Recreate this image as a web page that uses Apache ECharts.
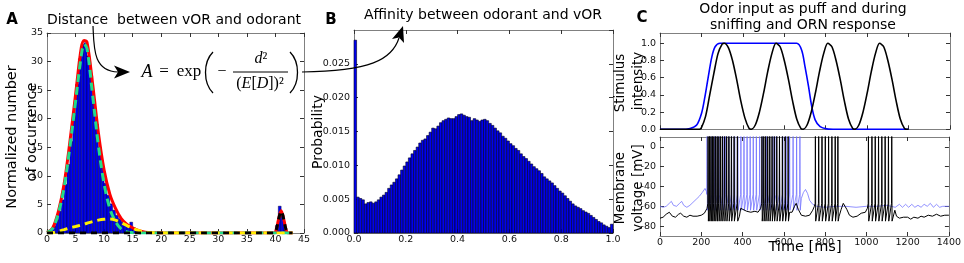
<!DOCTYPE html>
<html><head><meta charset="utf-8">
<script src="https://cdn.jsdelivr.net/npm/echarts@6/dist/echarts.min.js"></script>
<style>html,body{margin:0;padding:0;background:#fff}#c{width:964px;height:263px}</style>
</head><body><div id="c"></div>
<script>
// ---------- Panel A: distance histogram (bin left edge, bin right edge, normalized count) ----------
const distBinLeft  = [0,0.5,1,1.5,2,2.5,3,3.5,4,4.5,5,5.5,6,6.5,7,7.5,8,8.5,9,9.5,10,10.5,11,11.5,12,12.5,13,13.5,14,14.5,15,15.5,16,16.5,17,17.5,40,40.5,41,41.5];
const distBinRight = [0.5,1,1.5,2,2.5,3,3.5,4,4.5,5,5.5,6,6.5,7,7.5,8,8.5,9,9.5,10,10.5,11,11.5,12,12.5,13,13.5,14,14.5,15,15.5,16,16.5,17,17.5,18,40.5,41,41.5,42];
const distCounts   = [0.3,0.6,1.2,2.3,3.8,5.8,8.5,12,16,21,26,30.5,33,33.3,31,27.5,23,19,15,11.5,8.7,6.6,5.1,4,3.1,2.5,2,1.6,1.3,1.9,0.9,0.6,0.4,0.25,0.15,0.08,1.3,4.7,3.2,0.6];
// fitted curves
const fitX      = [0,1,2,3,4,5,6,6.5,7,8,9,10,11,12,13,14,15,16,17,18,20,25,30,35,39,39.8,40.2,40.5,41,41.5,41.8,42.2,43];
const fitTotal  = [0.1,0.9,3.8,8.6,15.9,24.2,32.4,33.7,33.4,26,17.5,11,6.8,4.3,2.5,1.5,0.9,0.45,0.2,0.08,0.02,0,0,0,0,0,0.8,2.2,3.9,2.2,0.8,0,0];
const fitMain   = [0.1,0.8,3.5,8,15,23,31,33,32.3,24,15.3,8.6,4.3,2,0.7,0.2,0.05,0,0,0,0,0,0,0,0,0,0,0,0,0,0,0,0];
const fitSecond = [0,0.05,0.3,0.6,0.9,1.15,1.4,1.55,1.7,2.0,2.25,2.4,2.45,2.25,1.8,1.3,0.85,0.45,0.2,0.08,0,0,0,0,0,0,0,0,0,0,0,0,0];
const fitFar    = [0,0,0,0,0,0,0,0,0,0,0,0,0,0,0,0,0,0,0,0,0,0,0,0,0,0,0.8,2.2,3.8,2.2,0.8,0,0];

// ---------- Panel B: affinity histogram, 100 bins over [0,1] ----------
const affinityProb = [0.0285,0.0053,0.0051,0.0049,0.0043,0.0045,0.0046,0.0044,0.0046,0.0049,
 0.0053,0.0056,0.0060,0.0066,0.0071,0.0075,0.0080,0.0086,0.0093,0.0099,
 0.0105,0.0111,0.0117,0.0122,0.0127,0.0133,0.0137,0.0139,0.0144,0.0149,
 0.0155,0.0154,0.0158,0.0163,0.0166,0.0168,0.0170,0.0169,0.0169,0.0172,
 0.0175,0.0176,0.0174,0.0172,0.0171,0.0166,0.0169,0.0167,0.0165,0.0167,
 0.0168,0.0166,0.0162,0.0159,0.0155,0.0151,0.0148,0.0143,0.0140,0.0136,
 0.0132,0.0129,0.0125,0.0122,0.0117,0.0113,0.0110,0.0106,0.0102,0.0098,
 0.0095,0.0092,0.0088,0.0083,0.0080,0.0077,0.0074,0.0070,0.0066,0.0062,
 0.0059,0.0055,0.0051,0.0047,0.0043,0.0040,0.0038,0.0036,0.0033,0.0031,
 0.0029,0.0026,0.0023,0.0020,0.0017,0.0015,0.0012,0.0010,0.0008,0.0013];
const affinityBinWidth = 0.01;

// ---------- Panel C (top): stimulus ----------
const puffTrace = [[0,0],[100,0],[145,0.01],[177,0.05],[201,0.19],[217,0.38],[233,0.61],[250,0.84],[266,0.96],[290,1.0],[660,1.0],[684,0.92],[700,0.73],[717,0.5],[733,0.26],[749,0.11],[773,0.03],[805,0.005],[850,0],[1200,0]];
const sniffTrace = [[0,0],[190,0],[200,0.02],[220,0.15],[240,0.4],[260,0.65],[280,0.88],[300,0.99],[310,1.0],[330,0.95],[350,0.8],[370,0.58],[390,0.33],[410,0.13],[430,0.01],[440,0],
 [460,0.05],[480,0.2],[500,0.42],[520,0.67],[540,0.88],[560,1.0],[580,0.96],[600,0.8],[620,0.58],[640,0.33],[660,0.12],[680,0.01],[690,0],
 [710,0.05],[730,0.2],[750,0.42],[770,0.67],[790,0.88],[810,1.0],[830,0.96],[850,0.8],[870,0.58],[890,0.33],[910,0.12],[930,0.01],[940,0],
 [960,0.05],[980,0.2],[1000,0.42],[1020,0.67],[1040,0.88],[1060,1.0],[1080,0.96],[1100,0.8],[1120,0.58],[1140,0.33],[1160,0.12],[1180,0.01],[1190,0],[1200,0]];

// ---------- Panel C (bottom): membrane voltage ----------
const sniffSpikeTimes = [233,240,247,254,261,269,277,285,294,303,313,323,334,346,359,375,
 494,503,512,522,532,543,554,566,579,593,607,621,
 753,769,785,801,817,833,849,862,
 1010,1027,1043,1059,1075,1091,1107,1123];
const puffSpikeTimes = [228,240,252,265,278,291,305,319,333,347,362,377,392,407,422,437,452,467,483,499,515,531,547,563,579,595,611,628,645,662,678];
const sniffRest = [[0,-72],[15,-71],[30,-68],[45,-66],[60,-70],[75,-71],[90,-68],[100,-67],[115,-70],[130,-71],[145,-69],[160,-70],[180,-70],[200,-69],[215,-67],[228,-62],
 [385,-70],[391,-62],[400,-64],[420,-65],[440,-66],[460,-65],[475,-66],[488,-62],
 [628,-66],[640,-66],[652,-60],[660,-57],[670,-63],[685,-69],[705,-70],[725,-69],[740,-64],[748,-60],
 [868,-70],[878,-63],[888,-57],[897,-58],[905,-63],[918,-69],[935,-71],[955,-70],[975,-67],[995,-66],[1005,-62],
 [1130,-74],[1138,-64],[1146,-70],[1160,-72],[1180,-71],[1200,-71],[1215,-73],[1230,-71],[1250,-72],[1265,-70],[1280,-71],[1300,-69],[1320,-70],[1340,-68],[1360,-70],[1380,-69],[1400,-69]];
const puffRest = [[0,-60],[15,-61],[30,-60],[45,-57],[55,-55],[65,-59],[80,-60],[95,-57],[105,-55],[115,-59],[130,-61],[145,-59],[160,-56],[175,-53],[190,-50],[205,-46],[218,-42],[225,-45],
 [685,-52],[695,-46],[705,-43],[715,-47],[725,-54],[740,-58],[760,-60],[800,-61],[850,-60],[900,-60],[950,-61],[1000,-60],[1050,-60],[1100,-59],[1140,-61],[1160,-58],[1175,-61],[1190,-58],[1205,-61],[1220,-58],[1235,-61],[1250,-59],[1265,-61],[1280,-58],[1295,-60],[1310,-57],[1325,-61],[1340,-58],[1355,-61],[1370,-60],[1400,-60]];
// spike waveform levels: [threshold, peak (clipped), trough]
const sniffSpikeLevels = [-57, 20, -75];
const puffSpikeLevels  = [-48, 20, -64];

// ---------- tick labels ----------
const cVoltTicks = [-80,-60,-40,-20,0];
const cStimTicks = [0,0.2,0.4,0.6,0.8,1.0];

// ---------- build helpers ----------
function buildTrace(rest, spikes, lv) {
  const pts = rest.slice();
  spikes.forEach(t => { pts.push([t-1.2, lv[0]], [t, lv[1]], [t+1.5, lv[2]]); });
  pts.sort((a,b) => a[0]-b[0]);
  return pts;
}
const histA = distBinLeft.map((l,i) => [l, distBinRight[i], distCounts[i]]);
const histB = affinityProb.map((p,i) => [i*affinityBinWidth, (i+1)*affinityBinWidth, p]);
const zipXY = (xs, ys) => xs.map((x,i) => [x, ys[i]]);

const FONT = 'DejaVu Sans';
const FRAME = '#808080';
function axis(grid, min, max, interval, pos, showLabel, fmt, custom) {
  const a = {type:'value', gridIndex:grid, min:min, max:max, position:pos,
    axisLine:{show:true, onZero:false, lineStyle:{color:FRAME, width:1}},
    axisTick:{show:true, inside:true, length:4, lineStyle:{color:'#333', width:1}},
    axisLabel:{show:showLabel, fontFamily:FONT, fontSize:9.5, color:'#111', margin:(pos==='bottom'?2:4), formatter:fmt, showMinLabel:true, showMaxLabel:true},
    splitLine:{show:false}};
  if (interval != null) a.interval = interval;
  if (custom) { a.axisTick.customValues = custom; a.axisLabel.customValues = custom; }
  return a;
}
const f0 = v => String(Math.round(v));
const f1 = v => v.toFixed(1);
const f3 = v => v.toFixed(3);

const grids = [
  {left:47, top:33, width:257, height:200},
  {left:354, top:30, width:259, height:203},
  {left:660, top:33, width:290, height:96.3},
  {left:660, top:137, width:290, height:99}
];
const xAxes = [
  axis(0,0,45,5,'bottom',true,f0), axis(0,0,45,5,'top',false,f0),
  axis(1,0,1,0.2,'bottom',true,f1), axis(1,0,1,0.2,'top',false,f1),
  axis(2,0,1400,200,'bottom',false,f0), axis(2,0,1400,200,'top',false,f0),
  axis(3,0,1400,200,'bottom',true,f0), axis(3,0,1400,200,'top',false,f0)
];
const yB = axis(1,0,0.03,0.005,'left',true,f3); yB.axisLabel.showMaxLabel = false;
const yAxes = [
  axis(0,0,35,5,'left',true,f0), axis(0,0,35,5,'right',false,f0),
  yB, axis(1,0,0.03,0.005,'right',false,f3),
  axis(2,0,1.12,null,'left',true,f1,cStimTicks), axis(2,0,1.12,null,'right',false,f1,cStimTicks),
  axis(3,-90,10,null,'left',true,f0,cVoltTicks), axis(3,-90,10,null,'right',false,f0,cVoltTicks)
];

function histSeries(idx, data, lw) {
  return {type:'custom', xAxisIndex:idx, yAxisIndex:idx, data:data, encode:{x:[0,1], y:2},
    renderItem:(params, api) => {
      const p0 = api.coord([api.value(0), api.value(2)]);
      const p1 = api.coord([api.value(1), 0]);
      return {type:'rect', shape:{x:p0[0], y:p0[1], width:p1[0]-p0[0], height:p1[1]-p0[1]},
        style:{fill:'#0000ee', stroke:'#000020', lineWidth:lw}};
    }};
}
function lineS(xi, yi, data, color, width, dash, z, extra) {
  return Object.assign({type:'line', xAxisIndex:xi, yAxisIndex:yi, data:data, showSymbol:false, symbol:'none',
    smooth:false, lineStyle:{color:color, width:width, type:dash || 'solid'}, z:z, clip:true}, extra || {});
}

const series = [
  histSeries(0, histA, 0.4),
  lineS(0,0,zipXY(fitX,fitTotal),'#ff0000',3,'solid',3,{smooth:0.35}),
  lineS(0,0,zipXY(fitX,fitMain),'#22dd88',3,[8,5],4,{smooth:0.35}),
  lineS(0,0,zipXY(fitX,fitSecond),'#ffee00',3,[8,5],5,{smooth:0.35}),
  lineS(0,0,zipXY(fitX,fitFar),'#000000',3,[6,5],6,{smooth:0.35}),
  histSeries(2, histB, 0.6),
  lineS(4,4,puffTrace,'#0000ff',1.6,'solid',3,{smooth:0.3}),
  lineS(4,4,sniffTrace,'#000000',1.6,'solid',4,{smooth:0.3}),
  lineS(6,6,buildTrace(puffRest,puffSpikeTimes,puffSpikeLevels),'#6f6fff',1,'solid',3,{lineStyle:{color:'#6f6fff',width:0.9,opacity:0.85}}),
  lineS(6,6,buildTrace(sniffRest,sniffSpikeTimes,sniffSpikeLevels),'#000000',1,'solid',4)
];

const T = (text, x, y, font, extra) => Object.assign({type:'text', x:x, y:y, z:100,
  style:Object.assign({text:text, font:font, fill:'#000', align:'center', verticalAlign:'middle'}, extra || {})});
const RT = (text, x, y, font, extra) => Object.assign(T(text,x,y,font), {rotation:Math.PI/2}, extra || {});
const SERIF = 'Liberation Serif';
const graphic = [
  T('A', 12, 20, 'bold 15px DejaVu Sans'),
  T('B', 331, 20, 'bold 15px DejaVu Sans'),
  T('C', 642, 18, 'bold 15px DejaVu Sans'),
  T('Distance  between vOR and odorant', 174, 20, '14px DejaVu Sans'),
  T('Affinity between odorant and vOR', 483, 15, '14px DejaVu Sans'),
  T('Odor input as puff and during', 803, 9, '14px DejaVu Sans'),
  T('sniffing and ORN response', 803, 25, '14px DejaVu Sans'),
  RT('Normalized number', 12, 137, '14.5px DejaVu Sans'),
  RT('of occurrence', 32, 132, '14.5px DejaVu Sans'),
  RT('Probability', 318, 132, '14px DejaVu Sans'),
  RT('Stimulus', 620, 83, '13.5px DejaVu Sans'),
  RT('intensity', 638, 81, '13.5px DejaVu Sans'),
  RT('Membrane', 620, 188, '13.5px DejaVu Sans'),
  RT('voltage [mV]', 638, 188, '13.5px DejaVu Sans'),
  T('Time [ms]', 805, 247, '14.5px DejaVu Sans'),
  // formula
  T('A', 147, 72, 'italic 18px ' + SERIF),
  T('=', 164, 72, '17px ' + SERIF),
  T('exp', 189, 72, '17px ' + SERIF),
  {type:'bezierCurve', z:100, shape:{x1:213,y1:52,cpx1:203,cpy1:62,cpx2:203,cpy2:83,x2:213,y2:93}, style:{stroke:'#000', lineWidth:1.3, fill:null}},
  {type:'bezierCurve', z:100, shape:{x1:290,y1:52,cpx1:300,cpy1:62,cpx2:300,cpy2:83,x2:290,y2:93}, style:{stroke:'#000', lineWidth:1.3, fill:null}},
  T('\u2212', 222, 72, '16px ' + SERIF),
  {type:'text', x:261, y:59, z:100, style:{text:'{i|d}{n|\u00b2}', align:'center', verticalAlign:'middle',
     rich:{n:{font:'16px '+SERIF, fill:'#000'}, i:{font:'italic 16px '+SERIF, fill:'#000'}}}},
  {type:'line', z:100, shape:{x1:233,y1:72,x2:288,y2:72}, style:{stroke:'#000', lineWidth:1}},
  {type:'text', x:260, y:84, z:100, style:{text:'{n|(}{i|E}{n|[}{i|D}{n|])\u00b2}', align:'center', verticalAlign:'middle',
     rich:{n:{font:'16px '+SERIF, fill:'#000'}, i:{font:'italic 16px '+SERIF, fill:'#000'}}}},
  // arrows
  {type:'bezierCurve', z:100, shape:{x1:93,y1:26,cpx1:94,cpy1:48,cpx2:93,cpy2:71,x2:118,y2:72}, style:{stroke:'#000', lineWidth:1.2, fill:null}},
  {type:'polygon', z:100, shape:{points:[[130,72],[114,65.5],[118,72],[114,78.5]]}, style:{fill:'#000'}},
  {type:'bezierCurve', z:100, shape:{x1:302,y1:72,cpx1:370,cpy1:71,cpx2:392,cpy2:60,x2:399,y2:38}, style:{stroke:'#000', lineWidth:1.2, fill:null}},
  {type:'polygon', z:100, shape:{points:[[403,26],[404,43],[399,37.5],[392,39]]}, style:{fill:'#000'}}
];

const chart = echarts.init(document.getElementById('c'));
chart.setOption({animation:false, backgroundColor:'#fff', grid:grids, xAxis:xAxes, yAxis:yAxes, series:series, graphic:graphic});
</script></body></html>
